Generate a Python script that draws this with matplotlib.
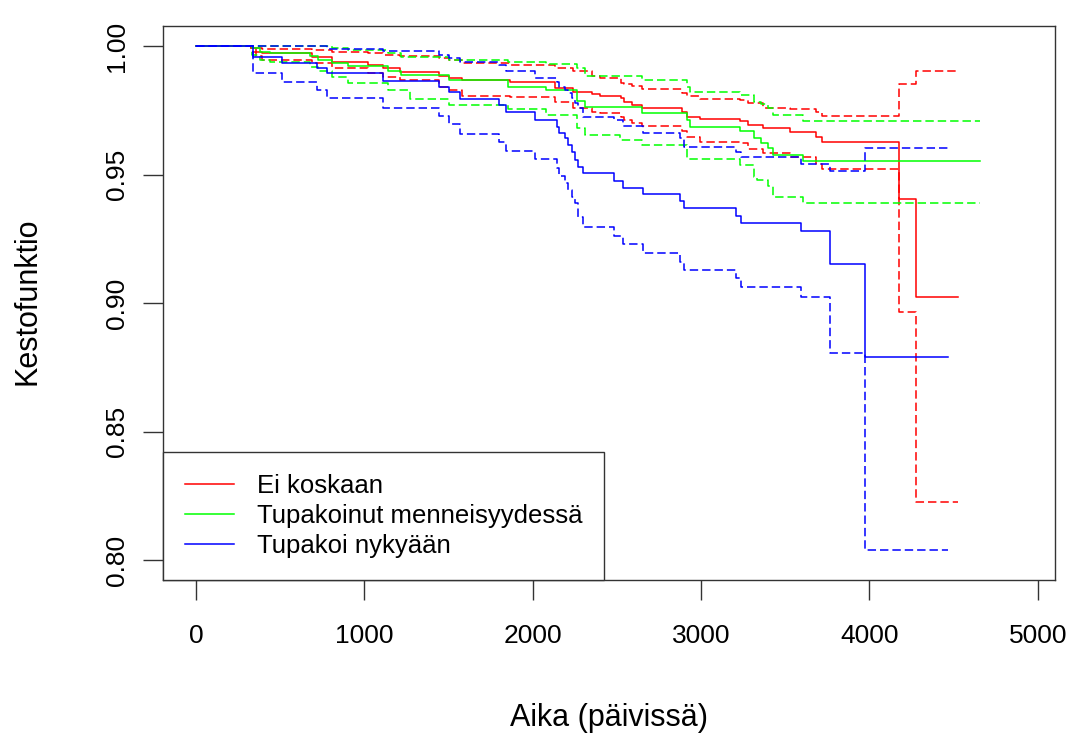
"""Kaplan-Meier estimates by smoking status with confidence bands (R style)."""
import matplotlib
matplotlib.use("Agg")
import matplotlib.pyplot as plt

plt.rcParams['font.family'] = ['Liberation Sans', 'DejaVu Sans']

# --- data (days, survival) ---
labels = ["Ei koskaan", "Tupakoinut menneisyydessä", "Tupakoi nykyään"]
colors = ["#FF0000", "#00FF00", "#0000FF"]

red_t = [327, 357, 392, 690, 809, 1023, 1112, 1213, 1445, 1504, 1581, 1867, 2134, 2241,
         2354, 2402, 2527, 2544, 2592, 2651, 2889, 2919, 2996, 3234, 3276, 3365, 3531,
         3680, 3716, 4173, 4274]
red_s = [0.9992, 0.9979, 0.9973, 0.9957, 0.9938, 0.9927, 0.9914, 0.9901, 0.9886, 0.9878,
         0.9869, 0.9862, 0.9836, 0.9823, 0.9813, 0.9805, 0.9797, 0.9784, 0.9771, 0.9760,
         0.9745, 0.9726, 0.9716, 0.9709, 0.9694, 0.9683, 0.9668, 0.9648, 0.9629, 0.9404,
         0.9024]
red_hi = [0.9998, 0.9994, 0.9988, 0.9984, 0.9976, 0.9973, 0.9966, 0.9962, 0.9953, 0.9947,
          0.9934, 0.9927, 0.9917, 0.9904, 0.9886, 0.9875, 0.9856, 0.9853, 0.9845, 0.9833,
          0.9817, 0.9808, 0.9794, 0.9789, 0.9778, 0.9759, 0.9754, 0.9745, 0.9729, 0.9853,
          0.9904]
red_lo = [0.9979, 0.9962, 0.9947, 0.9934, 0.9914, 0.9895, 0.9882, 0.9869, 0.9843, 0.9830,
          0.9808, 0.9803, 0.9784, 0.9759, 0.9745, 0.9739, 0.9724, 0.9713, 0.9700, 0.9690,
          0.9671, 0.9646, 0.9629, 0.9624, 0.9599, 0.9583, 0.9570, 0.9542, 0.9521, 0.8967,
          0.8226]
red_end = 4524

green_t = [333, 380, 440, 678, 725, 809, 904, 1141, 1219, 1504, 1855, 2081, 2265, 2313,
           2651, 2919, 2937, 3234, 3317, 3353, 3395, 3430, 3603]
green_s = [0.9992, 0.9979, 0.9973, 0.9962, 0.9947, 0.9934, 0.9923, 0.9905, 0.9888, 0.9867,
           0.9842, 0.9828, 0.9787, 0.9765, 0.9741, 0.9713, 0.9686, 0.9670, 0.9642, 0.9622,
           0.9603, 0.9577, 0.9553]
green_hi = [1.0, 1.0, 1.0, 1.0, 1.0, 0.9995, 0.9986, 0.9975, 0.9960, 0.9947, 0.9939, 0.9931,
            0.9914, 0.9886, 0.9869, 0.9841, 0.9823, 0.9810, 0.9784, 0.9775, 0.9760, 0.9731,
            0.9711]
green_lo_t = [333, 380, 440, 678, 725, 809, 904, 1141, 1272, 1504, 1855, 2081, 2265, 2313,
              2521, 2651, 2919, 3234, 3317, 3335, 3395, 3430, 3603]
green_lo = [0.9966, 0.9947, 0.9937, 0.9921, 0.9903, 0.9880, 0.9857, 0.9830, 0.9793, 0.9771,
            0.9754, 0.9733, 0.9681, 0.9655, 0.9635, 0.9616, 0.9560, 0.9538, 0.9492, 0.9479,
            0.9456, 0.9414, 0.9391]
green_end = 4655

blue_t = [339, 511, 719, 779, 1112, 1445, 1504, 1570, 1802, 1843, 2015, 2146, 2158, 2194,
          2212, 2235, 2253, 2271, 2301, 2485, 2539, 2657, 2877, 2901, 3210, 3240, 3591,
          3763, 3971]
blue_s = [0.9957, 0.9936, 0.9914, 0.9895, 0.9866, 0.9843, 0.9821, 0.9793, 0.9771, 0.9743,
          0.9715, 0.9686, 0.9664, 0.9642, 0.9616, 0.9590, 0.9557, 0.9531, 0.9505, 0.9477,
          0.9449, 0.9424, 0.9398, 0.9372, 0.9339, 0.9312, 0.9281, 0.9152, 0.8792]
blue_hi = [1.0, 1.0, 1.0, 0.9988, 0.9981, 0.9966, 0.9954, 0.9939, 0.9927, 0.9904, 0.9878,
           0.9860, 0.9843, 0.9830, 0.9817, 0.9798, 0.9778, 0.9759, 0.9726, 0.9713, 0.9690,
           0.9661, 0.9642, 0.9609, 0.9590, 0.9568, 0.9542, 0.9516, 0.9605]
blue_lo = [0.9897, 0.9862, 0.9830, 0.9798, 0.9759, 0.9727, 0.9696, 0.9658, 0.9626, 0.9594,
           0.9562, 0.9525, 0.9495, 0.9467, 0.9441, 0.9414, 0.9389, 0.9337, 0.9295, 0.9261,
           0.9230, 0.9194, 0.9161, 0.9129, 0.9097, 0.9062, 0.9025, 0.8807, 0.8039]
blue_end = 4465

xticks = [0, 1000, 2000, 3000, 4000, 5000]
yticks = [0.80, 0.85, 0.90, 0.95, 1.00]


def km_step(ax, times, surv, end, color, dashed=False, label=None):
    x = [0] + list(times) + [end]
    y = [1.0] + list(surv) + [surv[-1]]
    kw = dict(where="post", color=color, lw=1.1, label=label)
    if dashed:
        kw["dashes"] = (5.5, 2.6)
    ax.step(x, y, **kw)


fig = plt.figure(figsize=(10.75, 7.37), dpi=100)
ax = fig.add_axes([0.1516, 0.2130, 0.8298, 0.7517])

groups = [
    (red_t, red_s, red_lo, red_t, red_hi, red_end),
    (green_t, green_s, green_lo, green_lo_t, green_hi, green_end),
    (blue_t, blue_s, blue_lo, blue_t, blue_hi, blue_end),
]
for (t, s, lo, lo_t, hi, end), col, lab in zip(groups, colors, labels):
    km_step(ax, t, s, end, col, label=lab)
    km_step(ax, lo_t, lo, end, col, dashed=True)
    km_step(ax, t, hi, end, col, dashed=True)

ax.set_xlim(-196, 5102)
ax.set_ylim(0.7922, 1.0079)
ax.set_xticks(xticks)
ax.set_xticklabels([str(v) for v in xticks], fontsize=19)
ax.set_yticks(yticks)
ax.set_yticklabels([f"{v:.2f}" for v in yticks], fontsize=19, rotation=90, va="center")
ax.tick_params(axis="both", direction="out", length=14.5, width=1.0, color="#333333")
ax.tick_params(axis="x", pad=17)
ax.tick_params(axis="y", pad=10)
for sp in ax.spines.values():
    sp.set_color("#333333")
    sp.set_linewidth(1.0)

fig.text(609 / 1075, 1 - 718 / 737, "Aika (päivissä)", fontsize=22, ha="center", va="center")
fig.text(27 / 1075, 1 - 301 / 737, "Kestofunktio", fontsize=22, rotation=90,
         ha="center", va="center")

leg = ax.legend(loc="lower left", bbox_to_anchor=(0, 0), borderaxespad=0, fontsize=18.5,
                frameon=True, fancybox=False, edgecolor="#333333", framealpha=1,
                handlelength=1.9, handletextpad=0.9, borderpad=0.85, labelspacing=0.24)
leg.get_frame().set_linewidth(1.0)

fig.savefig("out.png", dpi=100)
